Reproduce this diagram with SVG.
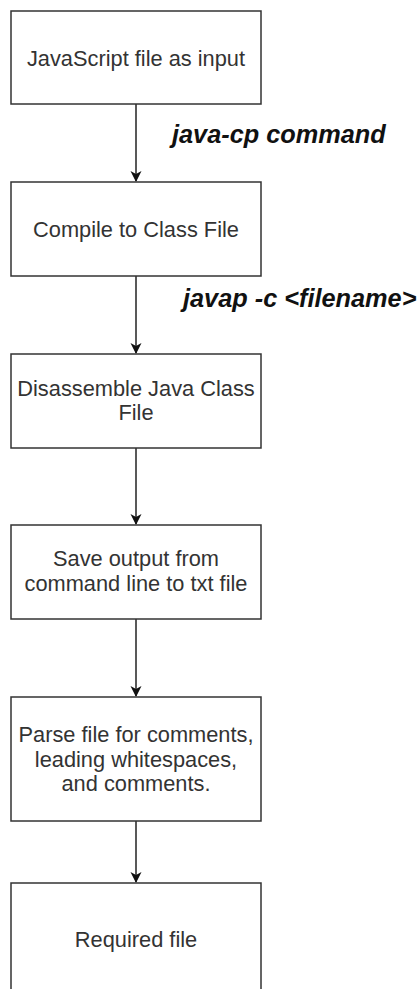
<svg xmlns="http://www.w3.org/2000/svg" width="419" height="989" viewBox="0 0 419 989">
<style>
.box{fill:#fff;stroke:#333;stroke-width:1.5}
.t{font-family:"Liberation Sans",Arial,sans-serif;font-size:21.8px;fill:#333;text-anchor:middle}
.lbl{font-family:"Liberation Sans",Arial,sans-serif;font-size:25.3px;font-weight:bold;font-style:italic;fill:#111}
.edge{stroke:#222;stroke-width:1.5;fill:none}
</style>
<defs>
<marker id="arr" markerWidth="12" markerHeight="12" refX="10" refY="5.5" orient="auto" markerUnits="userSpaceOnUse">
<path d="M0,0 L11,5.5 L0,11 L3,5.5 z" fill="#111"/>
</marker>
</defs>
<rect width="419" height="989" fill="#fff"/>
<g id="connectors">
<line class="edge" x1="136" y1="104" x2="136" y2="181" marker-end="url(#arr)"/>
<line class="edge" x1="136" y1="276" x2="136" y2="353" marker-end="url(#arr)"/>
<line class="edge" x1="136" y1="448" x2="136" y2="524" marker-end="url(#arr)"/>
<line class="edge" x1="136" y1="619" x2="136" y2="696" marker-end="url(#arr)"/>
<line class="edge" x1="136" y1="821" x2="136" y2="882" marker-end="url(#arr)"/>
<text class="lbl" x="172" y="143">java-cp command</text>
<text class="lbl" x="183" y="307">javap -c &lt;filename&gt;</text>
</g>
<g id="n1">
<rect class="box" x="11" y="11" width="250" height="93"/>
<text class="t" x="136" y="66">JavaScript file as input</text>
</g>
<g id="n2">
<rect class="box" x="11" y="182" width="250" height="94"/>
<text class="t" x="136" y="237">Compile to Class File</text>
</g>
<g id="n3">
<rect class="box" x="11" y="354" width="250" height="94"/>
<text class="t" x="136" y="396">Disassemble Java Class</text>
<text class="t" x="136" y="420">File</text>
</g>
<g id="n4">
<rect class="box" x="11" y="525" width="250" height="94"/>
<text class="t" x="136" y="566">Save output from</text>
<text class="t" x="136" y="590.5">command line to txt file</text>
</g>
<g id="n5">
<rect class="box" x="11" y="697" width="250" height="124"/>
<text class="t" x="136" y="742">Parse file for comments,</text>
<text class="t" x="136" y="766.5">leading whitespaces,</text>
<text class="t" x="136" y="791">and comments.</text>
</g>
<g id="n6">
<rect class="box" x="11" y="883" width="250" height="120"/>
<text class="t" x="136" y="947">Required file</text>
</g>
</svg>
